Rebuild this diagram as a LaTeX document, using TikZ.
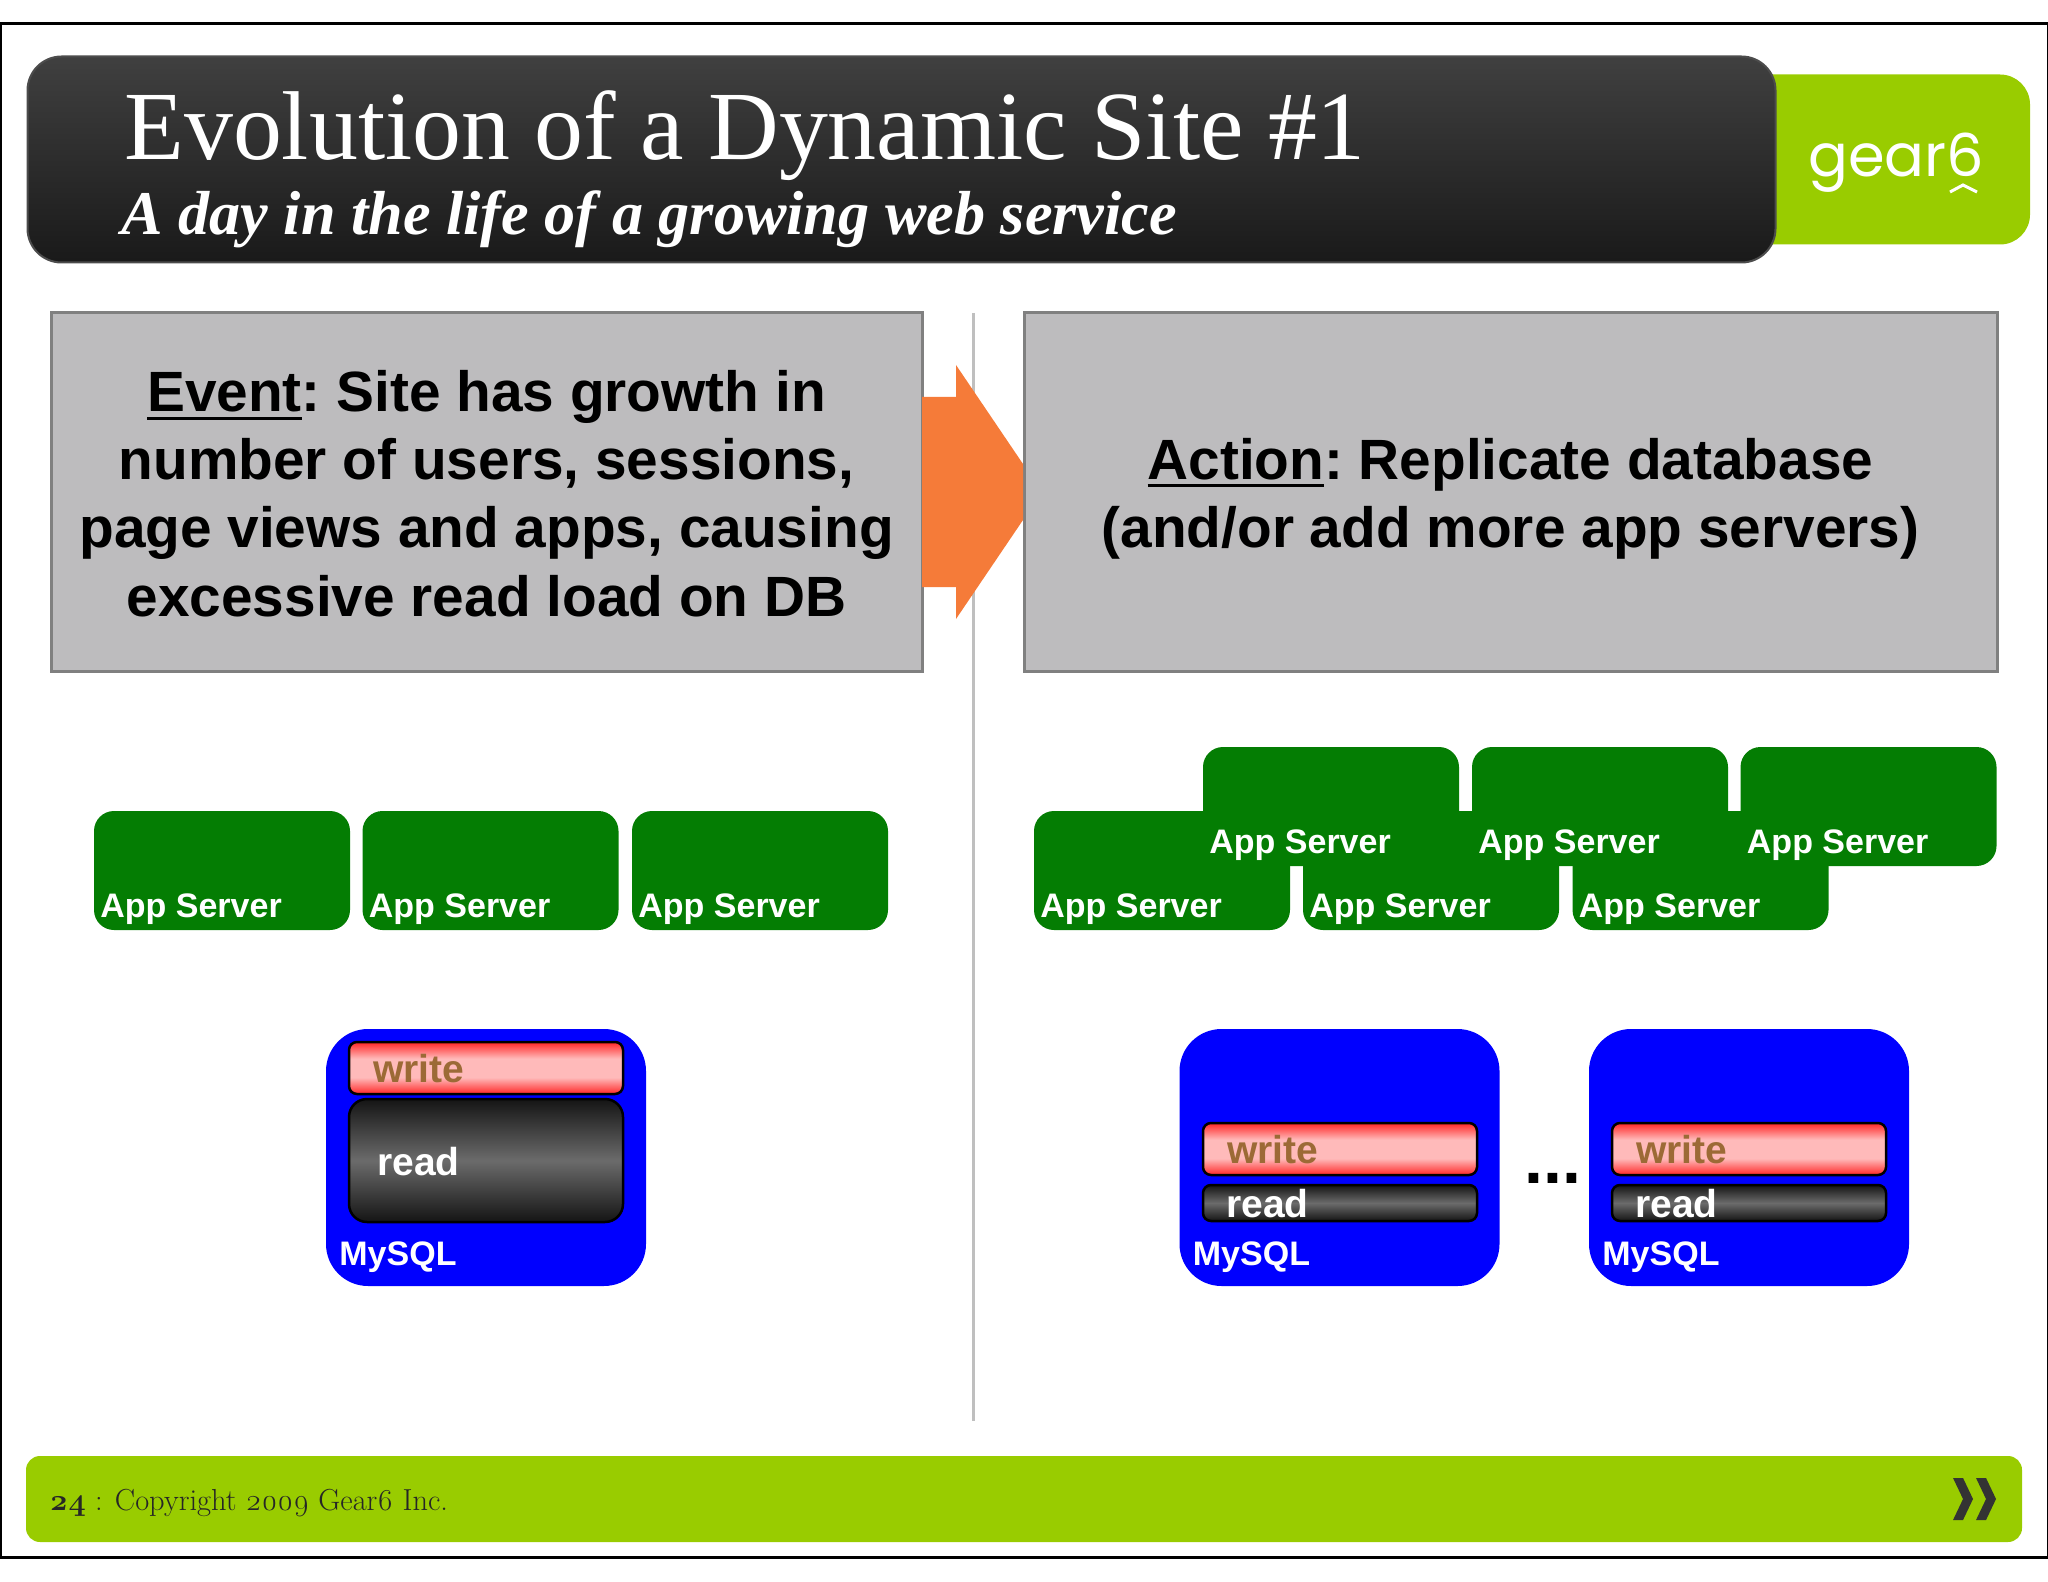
\documentclass[tikz,border=0pt]{standalone}
\usepackage{fontspec}
\setmainfont{Liberation Sans}
\newfontfamily\titlefont{Liberation Serif}
\newfontfamily\footfont[Numbers=OldStyle]{Latin Modern Roman}
\newfontfamily\logofont{Poppins}
\usetikzlibrary{positioning,calc}

\newsavebox{\ulbox}
\newcommand{\ulword}[1]{\sbox{\ulbox}{#1}\rlap{\rule[-4pt]{\wd\ulbox}{1.5pt}}\usebox{\ulbox}}

\definecolor{lime}{HTML}{99CC00}
\definecolor{boxgray}{HTML}{BDBCBE}
\definecolor{boxline}{HTML}{808080}
\definecolor{appgreen}{HTML}{047D03}
\definecolor{arroworange}{HTML}{F57B39}
\definecolor{writetext}{HTML}{9C6A36}

\pgfdeclareverticalshading{writeshade}{100bp}{color(0bp)=(red!85!white); color(25bp)=(red!85!white); color(41bp)=(red!27!white); color(59bp)=(red!27!white); color(75bp)=(red!85!white); color(100bp)=(red!85!white)}
\pgfdeclareverticalshading{readshade}{100bp}{color(0bp)=(black!92); color(25bp)=(black!92); color(50bp)=(black!58); color(75bp)=(black!92); color(100bp)=(black!92)}

\tikzset{
  bigbox/.style={draw=boxline, line width=1.5pt, fill=boxgray, inner sep=0pt, outer sep=0pt},
  bigtext/.style={inner sep=0pt, align=center, font=\fontsize{28.4}{34.1}\selectfont\bfseries\frenchspacing},
  appbox/.style={fill=appgreen, rounded corners=10pt, inner sep=0pt, outer sep=0pt, minimum width=128pt, minimum height=59.5pt},
  apptext/.style={anchor=base west, inner sep=0pt, text=white, font=\fontsize{17}{20}\selectfont\bfseries, xshift=3pt, yshift=6.5pt},
  dbbox/.style={fill=blue, rounded corners=21pt, inner sep=0pt, outer sep=0pt, minimum width=160pt, minimum height=128.5pt},
  dbtext/.style={anchor=base west, inner sep=0pt, text=white, font=\fontsize{17}{20}\selectfont\bfseries, xshift=6.5pt, yshift=10.5pt},
  writebar/.style={draw=black, line width=1.25pt, shading=writeshade, rounded corners=4pt, inner sep=0pt, outer sep=0pt, minimum width=137pt, minimum height=26pt},
  readbar/.style={draw=black, line width=1.25pt, shading=readshade, rounded corners=4pt, inner sep=0pt, outer sep=0pt, minimum width=137pt, minimum height=18pt},
  writelabel/.style={anchor=base west, inner sep=0pt, text=writetext, font=\fontsize{19.5}{22}\selectfont\bfseries, xshift=12pt, yshift=6pt},
  readlabel/.style={anchor=base west, inner sep=0pt, text=white, font=\fontsize{19.5}{22}\selectfont\bfseries, xshift=11.5pt, yshift=2pt}
}

\begin{document}
\begin{tikzpicture}[x=0.5pt, y=-0.5pt]
\useasboundingbox (0,0) rectangle (2048,1582);

% frame
\node[draw=black, line width=1.5pt, inner sep=0pt, minimum width=1024pt, minimum height=766.5pt] (frame) at (1024,790.5) {};

% header
\node[fill=lime, rounded corners=15pt, inner sep=0pt, minimum width=165pt, minimum height=85pt] (logobox) at (1865,159.5) {};
\node[draw=black!70, line width=1pt, top color=black!75, bottom color=black!90, rounded corners=17pt, inner sep=0pt, minimum width=874pt, minimum height=103pt] (header) at (901.5,159.5) {};
\node[anchor=base west, inner sep=0pt, text=white, font=\titlefont\fontsize{48.9}{50}\selectfont] (title) at (124,160) {Evolution of a Dynamic Site \#1};
\node[anchor=base west, inner sep=0pt, text=white, font=\titlefont\fontsize{31.1}{34}\selectfont\bfseries\itshape] (subtitle) at (121,235) {A day in the life of a growing web service};
\node[anchor=base west, inner sep=0pt, text=white, font=\logofont\fontsize{29.5}{30}\selectfont] (logo) at (1808,177) {gear6};
\coordinate (caretl) at (1950,192);
\coordinate (caretm) at (1963,185);
\coordinate (caretr) at (1977,192);
\draw[white, line width=1.5pt] (caretl) -- (caretm) -- (caretr);

% divider
\coordinate (divtop) at (973,313);
\coordinate (divbot) at (973,1421);
\draw[black!25, line width=1.5pt] (divtop) -- (divbot);

% event and action
\node[bigbox, minimum width=435.5pt, minimum height=179pt] (event) at (486.5,492) {};
\node[bigbox, minimum width=486.5pt, minimum height=179pt] (action) at (1510.5,492) {};
\node[bigtext] (eventtext) at (486.5,493.5) {\ulword{Event}: Site has growth in\\number of users, sessions,\\page views and apps, causing\\excessive read load on DB};
\node[bigtext] (actiontext) at (1510.5,498.5) {\ulword{Action}: Replicate database\\(and/or add more app servers)};
\fill[arroworange] (event.east) ++(0,-95) -- ++(34,0) -- ++(0,-32) -- ++(67,99) -- ++(0,56) -- ++(-67,99) -- ++(0,-32) -- ++(-34,0) -- cycle;

% app servers, left
\node[appbox, label={[apptext]south west:App Server}] (appa) at (222,870.5) {};
\node[appbox, label={[apptext]south west:App Server}] (appb) at (490.5,870.5) {};
\node[appbox, label={[apptext]south west:App Server}] (appc) at (760,870.5) {};

% app servers, right
\node[appbox] (appd) at (1331,806.5) {};
\node[appbox] (appe) at (1600,806.5) {};
\node[appbox] (appf) at (1868.5,806.5) {};
\node[appbox, label={[apptext]south west:App Server}] (appg) at (1162,870.5) {};
\node[appbox, label={[apptext]south west:App Server}] (apph) at (1431,870.5) {};
\node[appbox, label={[apptext]south west:App Server}] (appi) at (1700.5,870.5) {};
\node[apptext] (appdtxt) at (appd.south west) {App Server};
\node[apptext] (appetxt) at (appe.south west) {App Server};
\node[apptext] (appftxt) at (appf.south west) {App Server};

% database, left
\node[dbbox, label={[dbtext]south west:MySQL}] (dba) at (486,1157.5) {};
\node[writebar, label={[writelabel]south west:write}] (writea) at (486,1068) {};
\node[readbar, minimum height=61.5pt, rounded corners=9pt, label={[readlabel, xshift=2.5pt, yshift=21.5pt]south west:read}] (reada) at (486,1160.5) {};

% database, right
\node[dbbox, label={[dbtext]south west:MySQL}] (dbb) at (1339.5,1157.5) {};
\node[writebar, label={[writelabel]south west:write}] (writeb) at (1340,1149) {};
\node[readbar, label={[readlabel]south west:read}] (readb) at (1340,1203) {};
\node[dbbox, label={[dbtext]south west:MySQL}] (dbc) at (1749,1157.5) {};
\node[writebar, label={[writelabel]south west:write}] (writec) at (1749,1149) {};
\node[readbar, label={[readlabel]south west:read}] (readc) at (1749,1203) {};
\node[anchor=base, inner sep=0pt, font=\fontsize{34}{36}\selectfont\bfseries] (dots) at (1553,1183) {...};

% footer
\node[fill=lime, rounded corners=7pt, inner sep=0pt, minimum width=998pt, minimum height=43pt] (footer) at (1024,1499) {};
\node[anchor=base west, inner sep=0pt, text=black!85, font=\footfont\fontsize{15.2}{18}\selectfont] (page) at (49,1510) {\textbf{24} : Copyright 2009 Gear6 Inc.};
\coordinate (chevleft) at (1953,1478);
\coordinate (chevright) at (1976,1478);
\fill[black!80] (chevleft) -- ++(10,0) -- ++(10,21) -- ++(-10,21) -- ++(-10,0) -- ++(10,-21) -- cycle;
\fill[black!80] (chevright) -- ++(10,0) -- ++(10,21) -- ++(-10,21) -- ++(-10,0) -- ++(10,-21) -- cycle;
\end{tikzpicture}
\end{document}
